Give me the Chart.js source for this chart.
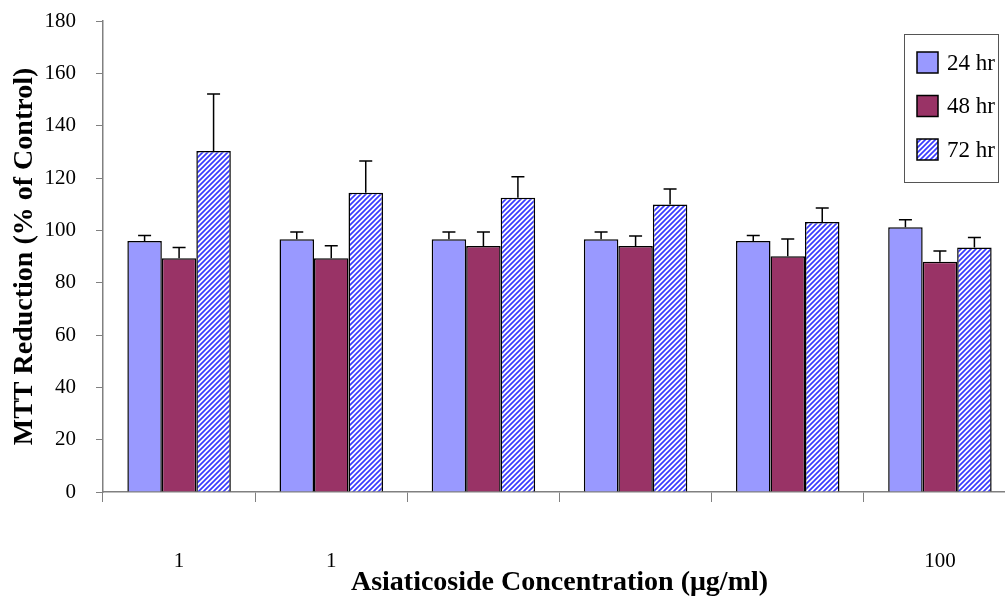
<!DOCTYPE html>
<html>
<head>
<meta charset="utf-8">
<script src="https://cdn.jsdelivr.net/npm/chart.js@4.4.1/dist/chart.umd.min.js"></script>
<style>
  body { margin: 0; overflow: hidden; background: #fff; }
  #container { width: 1020px; height: 601px; }
</style>
</head>
<body>
<div id="container"><canvas id="grafico"></canvas></div>
<script>
// Dados
const categorias = ['1', '1', '', '', '', '100'];
const series = ['24 hr', '48 hr', '72 hr'];
const valores24 = [95.9, 96.6, 96.6, 96.6, 95.9, 101.2];
const valores48 = [89.3, 89.3, 94.0, 94.0, 90.1, 88.0];
const valores72 = [130.3, 114.4, 112.5, 109.9, 103.2, 93.4];
const erros24 = [2.1, 2.8, 2.8, 2.8, 2.1, 2.8];
const erros48 = [4.1, 4.8, 5.4, 3.8, 6.6, 4.1];
const erros72 = [21.8, 12.1, 8.0, 5.9, 5.3, 3.9];
const ticksY = [0, 20, 40, 60, 80, 100, 120, 140, 160, 180];

const fonte = "'Liberation Serif', 'Times New Roman', serif";
Chart.defaults.font.family = fonte;
Chart.defaults.color = '#000';

// Padrão hachurado (listras azuis diagonais) para a série de 72 hr
function criarHachura(ctx) {
    const tam = 5;
    const c = document.createElement('canvas');
    c.width = tam;
    c.height = tam;
    const p = c.getContext('2d');
    p.fillStyle = '#fff';
    p.fillRect(0, 0, tam, tam);
    p.strokeStyle = '#3a3aff';
    p.lineWidth = 1.7;
    p.beginPath();
    p.moveTo(-1, tam + 1); p.lineTo(tam + 1, -1);
    p.moveTo(-1, 1); p.lineTo(1, -1);
    p.moveTo(tam - 1, tam + 1); p.lineTo(tam + 1, tam - 1);
    p.stroke();
    return ctx.createPattern(c, 'repeat');
}

const ctx = document.getElementById('grafico').getContext('2d');
const hachura = criarHachura(ctx);
const cores = ['#9999ff', '#993366', hachura];
const erros = [erros24, erros48, erros72];

// Barras de erro (só para cima, com traço no topo)
const pluginErros = {
    id: 'barrasErro',
    afterDatasetsDraw(chart) {
        const c = chart.ctx;
        const y = chart.scales.y;
        c.save();
        c.strokeStyle = '#000';
        c.lineWidth = 1.5;
        chart.data.datasets.forEach((ds, i) => {
            const meta = chart.getDatasetMeta(i);
            meta.data.forEach((barra, j) => {
                const topo = y.getPixelForValue(ds.data[j] + erros[i][j]);
                c.beginPath();
                c.moveTo(barra.x, barra.y);
                c.lineTo(barra.x, topo);
                c.moveTo(barra.x - 6.5, topo);
                c.lineTo(barra.x + 6.5, topo);
                c.stroke();
            });
        });
        c.restore();
    }
};

// Legenda desenhada à mão, dentro de uma caixa
const pluginLegenda = {
    id: 'legendaCaixa',
    afterDraw(chart) {
        const c = chart.ctx;
        c.save();
        c.fillStyle = '#fff';
        c.fillRect(904, 34, 94, 148);
        c.strokeStyle = '#555';
        c.lineWidth = 1;
        c.strokeRect(904.5, 34.5, 94, 148);
        c.font = '23px ' + fonte;
        c.textBaseline = 'middle';
        series.forEach((nome, i) => {
            const yTopo = 52 + i * 43.5;
            c.fillStyle = cores[i];
            c.fillRect(917, yTopo, 21, 21);
            c.strokeStyle = '#000';
            c.lineWidth = 1.5;
            c.strokeRect(917, yTopo, 21, 21);
            c.fillStyle = '#000';
            c.fillText(nome, 947, yTopo + 11.5);
        });
        c.restore();
    }
};

const dadosSeries = [valores24, valores48, valores72];

const meuGrafico = new Chart(ctx, {
    type: 'bar',
    data: {
        labels: categorias,
        datasets: series.map((nome, i) => ({
            label: nome,
            data: dadosSeries[i],
            backgroundColor: cores[i],
            borderColor: '#000',
            borderWidth: 1.5,
            categoryPercentage: 0.68,
            barPercentage: 1.0
        }))
    },
    options: {
        responsive: true,
        maintainAspectRatio: false,
        animation: false,
        layout: { padding: { top: 21, right: 4, left: 0, bottom: 0 } },
        plugins: {
            legend: { display: false },
            tooltip: { enabled: false }
        },
        scales: {
            x: {
                grid: {
                    offset: true,
                    drawOnChartArea: false,
                    drawTicks: true,
                    tickLength: 10,
                    color: '#808080'
                },
                border: { color: '#808080', width: 1.5 },
                ticks: {
                    font: { size: 21 },
                    padding: 47,
                    maxRotation: 0,
                    autoSkip: false
                },
                title: {
                    display: true,
                    text: 'Asiaticoside Concentration (\u03bcg/ml)',
                    font: { size: 28, weight: 'bold' },
                    padding: { top: 0, bottom: 1 }
                },
                afterFit(scale) { scale.height = 109; }
            },
            y: {
                min: 0,
                max: 180,
                afterBuildTicks(scale) {
                    scale.ticks = ticksY.map(v => ({ value: v }));
                },
                grid: {
                    drawOnChartArea: false,
                    drawTicks: true,
                    tickLength: 7,
                    color: '#808080'
                },
                border: { color: '#808080', width: 1.5 },
                ticks: {
                    font: { size: 21 },
                    padding: 20
                },
                title: {
                    display: true,
                    text: 'MTT Reduction (% of Control)',
                    font: { size: 28, weight: 'bold' },
                    padding: { top: 8, bottom: 0 }
                },
                afterFit(scale) {
                    scale.width = 103;
                    // o padding dos rótulos não deve empurrar a área do gráfico
                    scale.paddingTop = 0;
                    scale.paddingBottom = 0;
                }
            }
        }
    },
    plugins: [pluginErros, pluginLegenda]
});
</script>
</body>
</html>
